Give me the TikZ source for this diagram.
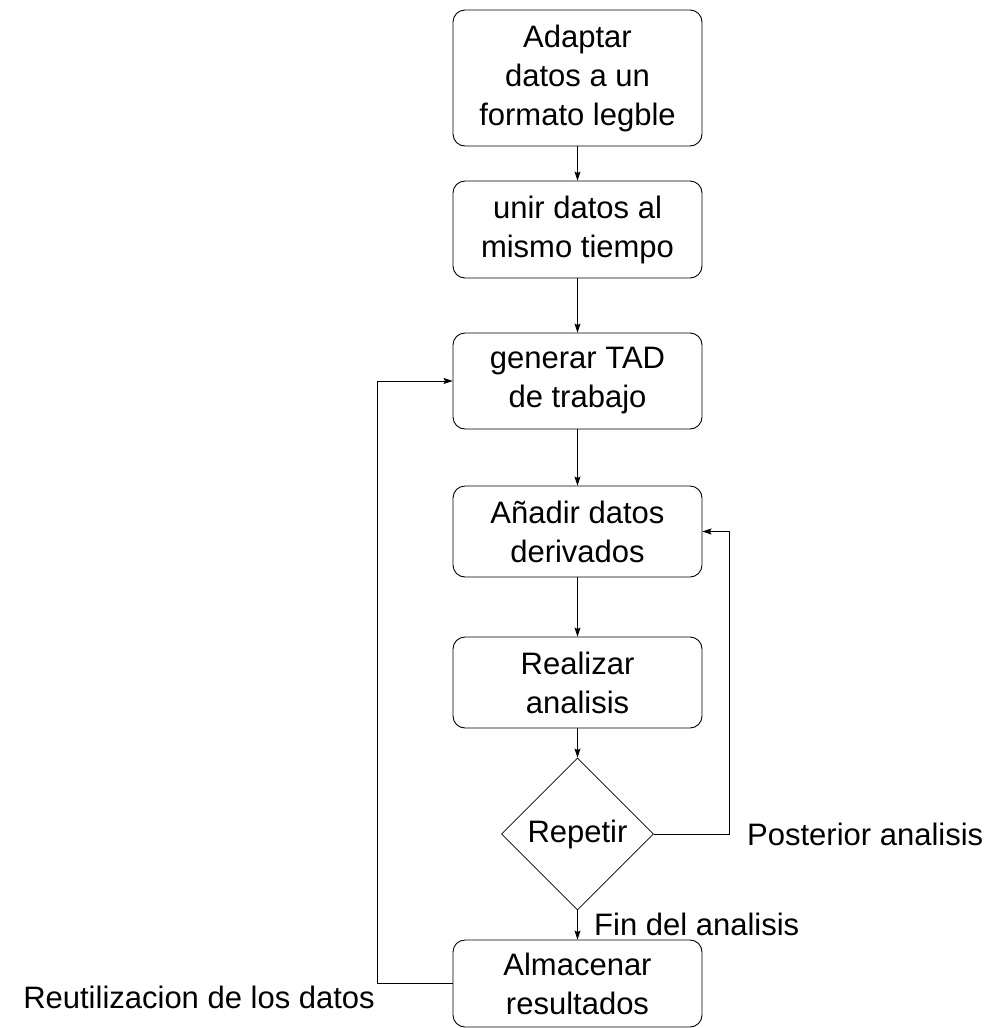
\documentclass[tikz,border=0pt]{standalone}
\usepackage{fontspec}
\setmainfont{Liberation Sans}
\usetikzlibrary{arrows.meta,positioning,calc,shapes.geometric}
\tikzset{
  stepbox/.style    = {draw, line width=0.9pt, rounded corners=12pt, minimum width=249pt,
                       inner sep=0pt, align=center},
  decision/.style   = {draw, line width=0.8pt, diamond, aspect=1, minimum width=152pt,
                       minimum height=152pt, inner sep=0pt},
  sig/.style        = {-{Stealth[length=9pt, width=6pt, inset=1.5pt]}, line width=0.8pt},
  lbl/.style        = {inner sep=2pt},
  every node/.style = {font=\fontsize{31}{39}\selectfont},
}

\begin{document}
\begin{tikzpicture}[x=1pt, y=-1pt]
  \useasboundingbox (0,0) rectangle (986,1028);
  \foreach \y/\h/\n/\t in {78/136/adapt/{Adaptar\\datos a un\\formato legble},
                           229.5/97/join/{unir datos al\\mismo tiempo},
                           381/96/tad/{generar TAD\\de trabajo},
                           531.5/91/deriv/{Añadir datos\\derivados},
                           682.5/91/anal/{Realizar\\analisis},
                           983.5/87/store/{Almacenar\\resultados}} {
    \node[stepbox, minimum height=\h pt] (\n) at (577.5,\y) {\t};
  }
  \node[decision] (rep) at (577.5,834) {Repetir};
  \foreach \a/\b in {adapt/join, join/tad, tad/deriv, deriv/anal, anal/rep, rep/store} {
    \draw[sig] (\a) -- (\b);
  }
  % loops back
  \coordinate (loopR) at (729,0);
  \coordinate (loopL) at (377,0);
  \draw[sig] (rep.east) -- (rep.east -| loopR) |- (deriv.east);
  \draw[sig] (store.west) -- (store.west -| loopL) |- (tad.west);
  \node[lbl, anchor=west] (post) at (745,834) {Posterior analisis};
  \node[lbl, anchor=west] (fin) at (592,924) {Fin del analisis};
  \node[lbl, anchor=north east] (reuse) at (store.west -| loopL) {Reutilizacion de los datos};
\end{tikzpicture}
\end{document}
